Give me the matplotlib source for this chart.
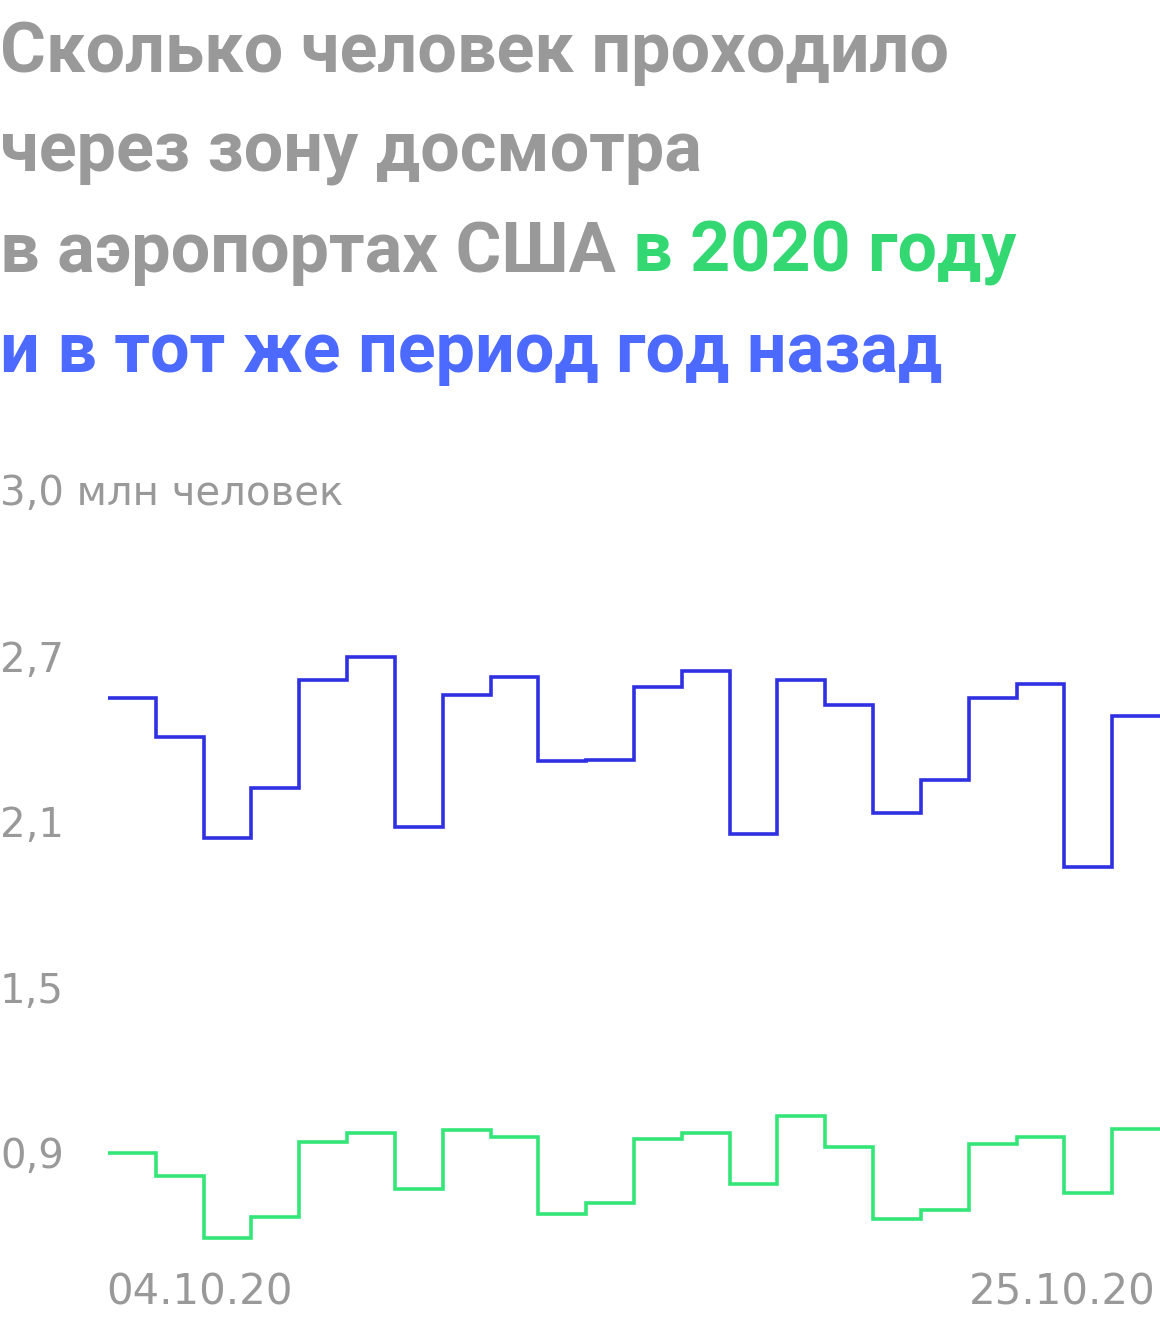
import numpy as np
import matplotlib
matplotlib.use('Agg')
import matplotlib.pyplot as plt
from matplotlib import transforms

# пассажиропоток через досмотр TSA, млн человек в сутки (04.10 - 25.10)
flow_2020 = [0.896, 0.813, 0.586, 0.665, 0.935, 0.968, 0.764, 0.980, 0.955, 0.675, 0.713,
             0.946, 0.970, 0.785, 1.031, 0.918, 0.656, 0.688, 0.930, 0.956, 0.751, 0.982]
flow_2019 = [2.551, 2.409, 2.041, 2.223, 2.615, 2.699, 2.081, 2.563, 2.626, 2.323, 2.327,
             2.591, 2.649, 2.055, 2.615, 2.525, 2.134, 2.253, 2.551, 2.603, 1.936, 2.487]

y_ticks = [0.9, 1.5, 2.1, 2.7, 3.31]
y_labels = ['0,9', '1,5', '2,1', '2,7', '3,0 млн человек']
date_labels = ['04.10.20', '25.10.20']

title_lines = ['Сколько человек проходило', 'через зону досмотра', 'в аэропортах США ']
title_green = 'в 2020 году'
title_blue = 'и в тот же период год назад'

GREY = '#999999'
GREEN_TXT = '#33D873'
BLUE_TXT = '#4C6AFF'
GREEN_LINE = '#33E677'
BLUE_LINE = '#3030E3'

W, H = 1160, 1320
fig = plt.figure(figsize=(W / 100, H / 100), dpi=100)

# plot area: x 108..1160 px, y 480..1260 px from top
ax = fig.add_axes([108 / W, 60 / H, 1052 / W, 780 / H])
edges = np.arange(len(flow_2020) + 1)
ax.stairs(flow_2019, edges, baseline=None, color=BLUE_LINE, linewidth=2.6)
ax.stairs(flow_2020, edges, baseline=None, color=GREEN_LINE, linewidth=2.6)
ax.set_xlim(0, len(flow_2020))
ax.set_ylim(0.5073, 3.3436)
ax.axis('off')

lbl_font = dict(family=['DejaVu Sans'], color=GREY)

# y labels, flush to the left edge of the figure
trans = transforms.blended_transform_factory(fig.transFigure, ax.transData)
for v, s in zip(y_ticks, y_labels):
    ax.text(0.0, v, s, transform=trans, ha='left', va='center_baseline', fontsize=29, **lbl_font)

# date labels under the chart
date_y = 1 - 1288 / H
fig.text(106 / W, date_y, date_labels[0], ha='left', va='center_baseline', fontsize=30.2, **lbl_font)
fig.text(1156 / W, date_y, date_labels[-1], ha='right', va='center_baseline', fontsize=30.2, **lbl_font)

# title, four lines, the third one in two colours
ttl_font = dict(family=['Roboto', 'DejaVu Sans'], fontsize=50.5, fontweight='bold')
baselines = [72, 172, 272, 372]
for i, line in enumerate(title_lines):
    t = fig.text(0.0, 1 - baselines[i] / H, line, ha='left', va='baseline', color=GREY, **ttl_font)
fig.canvas.draw()
bb = t.get_window_extent()
fig.text(bb.x1 / W, 1 - baselines[2] / H, title_green, ha='left', va='baseline', color=GREEN_TXT, **ttl_font)
fig.text(0.0, 1 - baselines[3] / H, title_blue, ha='left', va='baseline', color=BLUE_TXT, **ttl_font)

fig.savefig('out.png', dpi=100)
